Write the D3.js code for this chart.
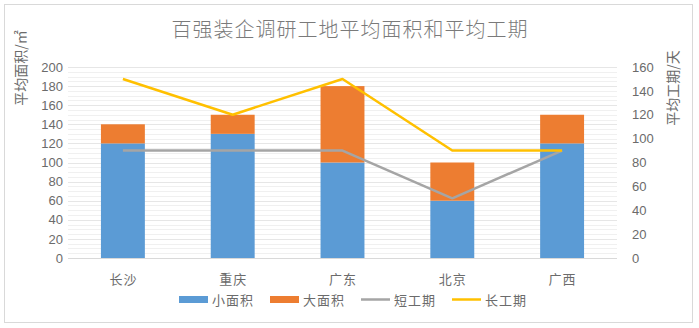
<!DOCTYPE html>
<html><head><meta charset="utf-8">
<script src="https://cdn.jsdelivr.net/npm/d3@7"></script>
<style>body{margin:0;background:#fff}svg{display:block}text{font-family:"Noto Sans CJK SC","Noto Sans",sans-serif}</style>
</head><body>
<script>
const categories = ["长沙","重庆","广东","北京","广西"];
const smallArea = [120,130,100,60,120];
const largeArea = [20,20,80,40,30];
const shortPeriod = [90,90,90,50,90];
const longPeriod = [150,120,150,90,90];
const leftTicks = [0,20,40,60,80,100,120,140,160,180,200];
const rightTicks = [0,20,40,60,80,100,120,140,160];
const seriesNames = ["小面积","大面积","短工期","长工期"];
const colors = {small:"#5B9BD5", large:"#ED7D31", short:"#A5A5A5", long:"#FFC000"};

const W=699,H=328;
const svg=d3.select("body").append("svg").attr("width",W).attr("height",H);
svg.append("rect").attr("x",4.5).attr("y",4.5).attr("width",688).attr("height",318).attr("fill","#fff").attr("stroke","#d9d9d9");

const x=d3.scaleBand().domain(categories).range([68,617]).paddingInner(0.6).paddingOuter(0.3);
const xc=d3.scalePoint().domain(categories).range([68,617]).padding(0.5);
const yL=d3.scaleLinear().domain([0,200]).range([258,67]);
const yR=d3.scaleLinear().domain([0,160]).range([258,67]);

// gridlines
const grid=svg.append("g");
grid.selectAll("line").data(d3.range(5,201,5)).join("line")
  .attr("x1",68).attr("x2",617).attr("y1",d=>Math.round(yL(d))+0.5).attr("y2",d=>Math.round(yL(d))+0.5)
  .attr("stroke",d=>d%20===0?"#e6e6e6":"#f0f0f0").attr("stroke-width",1);

// bars
const stackData=categories.map((c,i)=>({c,small:smallArea[i],large:largeArea[i]}));
const stack=d3.stack().keys(["small","large"])(stackData);
svg.append("g").selectAll("g").data(stack).join("g").attr("fill",d=>colors[d.key])
  .selectAll("rect").data(d=>d).join("rect")
  .attr("x",d=>x(d.data.c)).attr("width",x.bandwidth())
  .attr("y",d=>yL(d[1])).attr("height",d=>yL(d[0])-yL(d[1]));

// axis line
svg.append("line").attr("x1",68).attr("x2",617).attr("y1",258.5).attr("y2",258.5).attr("stroke","#d9d9d9");

// lines
const line=d3.line().x((d,i)=>xc(categories[i])).y(d=>yR(d));
svg.append("path").datum(shortPeriod).attr("d",line).attr("fill","none").attr("stroke",colors.short).attr("stroke-width",2.5).attr("stroke-linejoin","round");
svg.append("path").datum(longPeriod).attr("d",line).attr("fill","none").attr("stroke",colors.long).attr("stroke-width",2.5).attr("stroke-linejoin","round");

const txt="#6b6b6b";
// axes
const axL=svg.append("g").attr("transform","translate(63,0)")
  .call(d3.axisLeft(yL).tickValues(leftTicks).tickSize(0).tickPadding(0));
axL.select(".domain").remove();
axL.selectAll("text").attr("fill",txt).style("font-size","13px").style("font-family","Liberation Sans, sans-serif");
const axR=svg.append("g").attr("transform","translate(632,0)")
  .call(d3.axisRight(yR).tickValues(rightTicks).tickSize(0).tickPadding(0));
axR.select(".domain").remove();
axR.selectAll("text").attr("fill",txt).style("font-size","13px").style("font-family","Liberation Sans, sans-serif");
const axB=svg.append("g").attr("transform","translate(0,258)")
  .call(d3.axisBottom(xc).tickSize(0).tickPadding(17));
axB.select(".domain").remove();
axB.selectAll("text").attr("fill",txt).style("font-size","13px").style("letter-spacing","1px");

// title
svg.append("text").attr("x",350).attr("y",37).attr("text-anchor","middle").attr("fill","#7a7a7a")
  .style("font-size","20px").style("letter-spacing","1px").style("font-weight","300").text("百强装企调研工地平均面积和平均工期");
// axis titles
svg.append("text").attr("transform","translate(26,68) rotate(-90)").attr("text-anchor","middle").attr("fill",txt)
  .style("font-size","14px").text("平均面积/㎡");
svg.append("text").attr("transform","translate(678,88) rotate(-90)").attr("text-anchor","middle").attr("fill",txt)
  .style("font-size","14px").text("平均工期/天");

// legend
const lg=svg.append("g");
const items=[{n:seriesNames[0],c:colors.small,t:"rect",x:179},{n:seriesNames[1],c:colors.large,t:"rect",x:270},{n:seriesNames[2],c:colors.short,t:"line",x:361},{n:seriesNames[3],c:colors.long,t:"line",x:452}];
items.forEach(it=>{
  if(it.t==="rect") lg.append("rect").attr("x",it.x).attr("y",296).attr("width",29).attr("height",7).attr("fill",it.c);
  else lg.append("line").attr("x1",it.x).attr("x2",it.x+29).attr("y1",299.5).attr("y2",299.5).attr("stroke",it.c).attr("stroke-width",2.5);
  lg.append("text").attr("x",it.x+33).attr("y",304.5).attr("fill",txt).style("font-size","13px").style("letter-spacing","1px").text(it.n);
});
</script>
</body></html>
